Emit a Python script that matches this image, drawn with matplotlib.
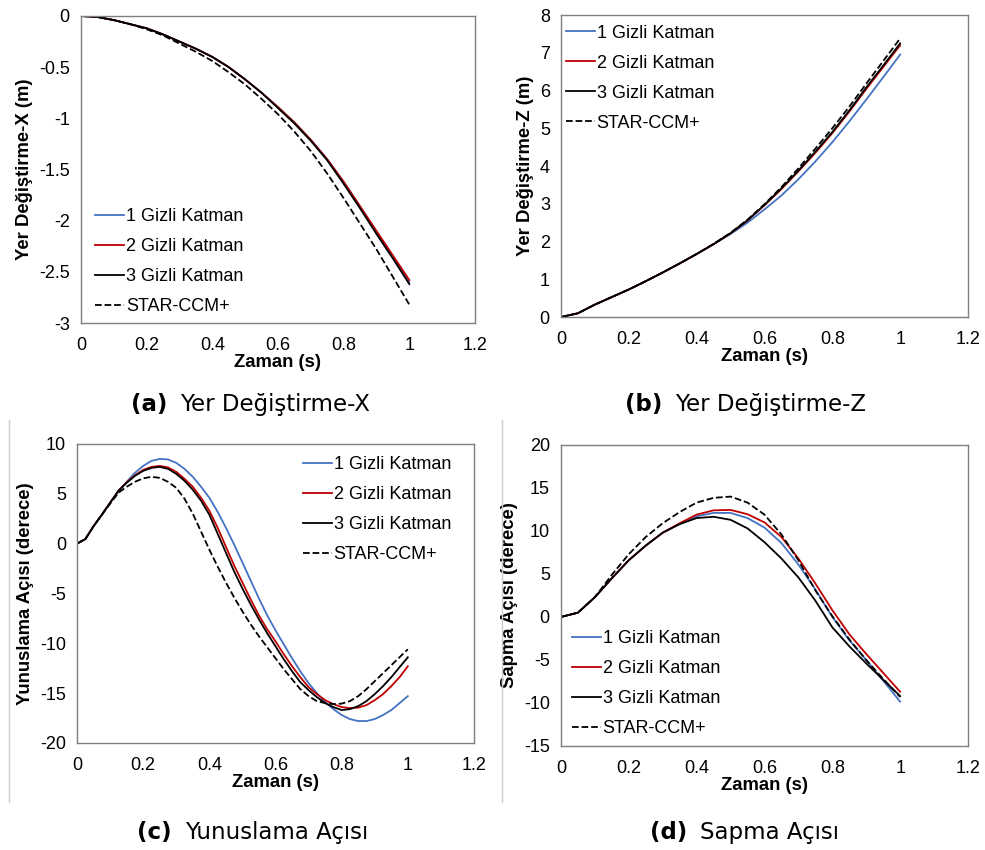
import matplotlib
matplotlib.use("Agg")
import matplotlib.pyplot as plt
import numpy as np

plt.rcParams['font.family'] = ['Liberation Sans', 'DejaVu Sans']

# zaman (s)
t20 = np.linspace(0, 1, 21)
t40 = np.linspace(0, 1, 41)

etiketler = ["1 Gizli Katman", "2 Gizli Katman", "3 Gizli Katman", "STAR-CCM+"]

# (a) Yer Degistirme-X (m)
x_1 = [0, -0.01, -0.04, -0.08, -0.12, -0.18, -0.25, -0.32, -0.40, -0.50, -0.62,
       -0.75, -0.89, -1.04, -1.21, -1.40, -1.62, -1.86, -2.11, -2.35, -2.60]
x_2 = [0, -0.01, -0.04, -0.08, -0.12, -0.18, -0.25, -0.32, -0.40, -0.50, -0.62,
       -0.75, -0.89, -1.04, -1.21, -1.40, -1.62, -1.86, -2.10, -2.34, -2.58]
x_3 = [0, -0.01, -0.04, -0.08, -0.12, -0.18, -0.25, -0.32, -0.40, -0.50, -0.62,
       -0.75, -0.90, -1.05, -1.22, -1.41, -1.64, -1.88, -2.13, -2.37, -2.62]
x_star = [0, -0.01, -0.04, -0.08, -0.13, -0.19, -0.27, -0.35, -0.44, -0.55, -0.67,
          -0.81, -0.96, -1.13, -1.32, -1.54, -1.78, -2.03, -2.28, -2.55, -2.82]

# (b) Yer Degistirme-Z (m)
z_1 = [0, 0.10, 0.33, 0.53, 0.73, 0.95, 1.18, 1.42, 1.67, 1.93, 2.20,
       2.50, 2.85, 3.22, 3.65, 4.12, 4.63, 5.18, 5.76, 6.35, 6.95]
z_2 = [0, 0.10, 0.33, 0.53, 0.73, 0.95, 1.18, 1.42, 1.67, 1.93, 2.22,
       2.56, 2.96, 3.39, 3.86, 4.35, 4.87, 5.44, 6.04, 6.62, 7.20]
z_3 = [0, 0.10, 0.33, 0.53, 0.73, 0.95, 1.18, 1.42, 1.67, 1.93, 2.22,
       2.56, 2.97, 3.41, 3.88, 4.38, 4.90, 5.47, 6.08, 6.66, 7.25]
z_star = [0, 0.10, 0.33, 0.53, 0.73, 0.95, 1.18, 1.42, 1.67, 1.94, 2.23,
          2.58, 2.99, 3.44, 3.94, 4.46, 5.00, 5.57, 6.18, 6.78, 7.38]

# (c) Yunuslama Acisi (derece), 0.025 s adim
p_1 = [0, 0.45, 1.75, 2.9, 4.1, 5.2, 6.2, 7.1, 7.8, 8.3, 8.5, 8.45, 8.1, 7.5, 6.7, 5.7,
       4.6, 3.2, 1.6, -0.1, -1.9, -3.7, -5.5, -7.2, -8.7, -10.1, -11.5, -12.8, -14.0,
       -15.0, -15.9, -16.6, -17.2, -17.6, -17.8, -17.8, -17.6, -17.2, -16.7, -16.0, -15.3]
p_2 = [0, 0.45, 1.75, 2.9, 4.1, 5.3, 6.15, 6.85, 7.4, 7.7, 7.8, 7.65, 7.2, 6.5, 5.7, 4.6,
       3.3, 1.6, -0.3, -2.2, -3.9, -5.6, -7.2, -8.6, -9.8, -11.1, -12.3, -13.4, -14.4,
       -15.1, -15.7, -16.1, -16.4, -16.5, -16.45, -16.2, -15.7, -15.1, -14.3, -13.4, -12.3]
p_3 = [0, 0.45, 1.75, 2.9, 4.1, 5.3, 6.1, 6.8, 7.3, 7.6, 7.7, 7.5, 7.0, 6.3, 5.4, 4.3,
       2.9, 1.0, -0.9, -2.8, -4.5, -6.1, -7.6, -9.0, -10.3, -11.6, -12.8, -13.9, -14.7,
       -15.4, -16.0, -16.4, -16.7, -16.6, -16.3, -15.8, -15.1, -14.3, -13.4, -12.4, -11.4]
p_star = [0, 0.45, 1.75, 2.9, 4.0, 5.1, 5.7, 6.2, 6.55, 6.7, 6.6, 6.2, 5.6, 4.5, 3.0, 1.2,
          -0.6, -2.3, -3.9, -5.4, -6.8, -8.1, -9.3, -10.4, -11.5, -12.6, -13.6, -14.6, -15.3,
          -15.8, -16.0, -16.1, -16.05, -15.8, -15.3, -14.6, -13.8, -13.0, -12.2, -11.4, -10.6]

# (d) Sapma Acisi (derece)
s_1 = [0, 0.5, 2.3, 4.5, 6.6, 8.3, 9.8, 10.8, 11.7, 12.1, 12.1, 11.5, 10.4, 8.6, 6.1,
       3.2, 0.0, -2.7, -5.0, -7.4, -9.85]
s_2 = [0, 0.5, 2.3, 4.5, 6.6, 8.3, 9.8, 10.9, 11.9, 12.4, 12.45, 11.95, 11.0, 9.3, 6.8,
       3.9, 0.8, -2.0, -4.3, -6.5, -8.7]
s_3 = [0, 0.5, 2.3, 4.5, 6.6, 8.3, 9.8, 10.8, 11.5, 11.65, 11.3, 10.3, 8.7, 6.8, 4.6,
       1.9, -1.2, -3.4, -5.4, -7.3, -9.2]
s_star = [0, 0.5, 2.3, 4.9, 7.3, 9.3, 10.9, 12.2, 13.3, 13.85, 14.0, 13.3, 11.9, 9.6, 6.6,
          3.1, 0.1, -2.6, -5.0, -7.2, -9.3]

renkler = ["#4472C4", "#C00000", "black", "black"]
stiller = ["-", "-", "-", "--"]

paneller = [
    dict(rect=[0.0822, 0.620, 0.400, 0.3612], t=t20, seri=[x_1, x_2, x_3, x_star],
         ylim=(-3, 0), yticks=np.arange(-3, 0.01, 0.5), ylabel="Yer Değiştirme-X (m)",
         leg=(0.036, 0.373), baslik=("(a)", "Yer Değiştirme-X"), bpos=(180, 405)),
    dict(rect=[0.5695, 0.627, 0.4132, 0.3553], t=t20, seri=[z_1, z_2, z_3, z_star],
         ylim=(0, 8), yticks=np.arange(0, 8.1, 1), ylabel="Yer Değiştirme-Z (m)",
         leg=(0.012, 0.968), baslik=("(b)", "Yer Değiştirme-Z"), bpos=(675, 405)),
    dict(rect=[0.0782, 0.1259, 0.4030, 0.3518], t=t40, seri=[p_1, p_2, p_3, p_star],
         ylim=(-20, 10), yticks=np.arange(-20, 10.1, 5), ylabel="Yunuslama Açısı (derece)",
         leg=(0.569, 0.959), baslik=("(c)", "Yunuslama Açısı"), bpos=(185, 833)),
    dict(rect=[0.5695, 0.1224, 0.4132, 0.3541], t=t20, seri=[s_1, s_2, s_3, s_star],
         ylim=(-15, 20), yticks=np.arange(-15, 20.1, 5), ylabel="Sapma Açısı (derece)",
         leg=(0.027, 0.384), baslik=("(d)", "Sapma Açısı"), bpos=(700, 833)),
]

W, H = 985, 850
fig = plt.figure(figsize=(W / 100, H / 100), dpi=100)

for p in paneller:
    ax = fig.add_axes(p["rect"])
    for y, lab, c, ls in zip(p["seri"], etiketler, renkler, stiller):
        ax.plot(p["t"], y, color=c, linestyle=ls, linewidth=1.3, label=lab)
    ax.set_xlim(0, 1.2)
    ax.set_ylim(*p["ylim"])
    ax.set_xticks(np.arange(0, 1.21, 0.2))
    ax.set_xticklabels(["0", "0.2", "0.4", "0.6", "0.8", "1", "1.2"])
    ax.set_yticks(p["yticks"])
    ax.set_yticklabels(["%g" % v for v in p["yticks"]])
    ax.tick_params(length=0, labelsize=13)
    ax.tick_params(axis="x", pad=10)
    ax.tick_params(axis="y", pad=8)
    for s in ax.spines.values():
        s.set_color("#7f7f7f")
        s.set_linewidth(1.0)
    ax.set_xlabel("Zaman (s)", fontsize=13.3, fontweight="bold", labelpad=0)
    ax.set_ylabel(p["ylabel"], fontsize=13.3, fontweight="bold", labelpad=4)
    ax.legend(loc="upper left", bbox_to_anchor=p["leg"], frameon=False, fontsize=13,
              borderpad=0, borderaxespad=0, handlelength=1.6, handletextpad=0.1,
              labelspacing=0.72)
    bx, by = p["bpos"]
    fig.text((bx - 13) / W, 1 - by / H, p["baslik"][0], ha="right", va="center",
             fontsize=16.5, fontweight="bold", family="DejaVu Sans")
    fig.text(bx / W, 1 - by / H, p["baslik"][1], ha="left", va="center",
             fontsize=16.5, family="DejaVu Sans")

# ayirici cizgiler
fig.add_artist(plt.Line2D([0.009, 0.009], [0.056, 0.506], color="#cccccc", linewidth=1))
fig.add_artist(plt.Line2D([0.510, 0.510], [0.056, 0.506], color="#cccccc", linewidth=1))

fig.savefig("out.png", dpi=100)
